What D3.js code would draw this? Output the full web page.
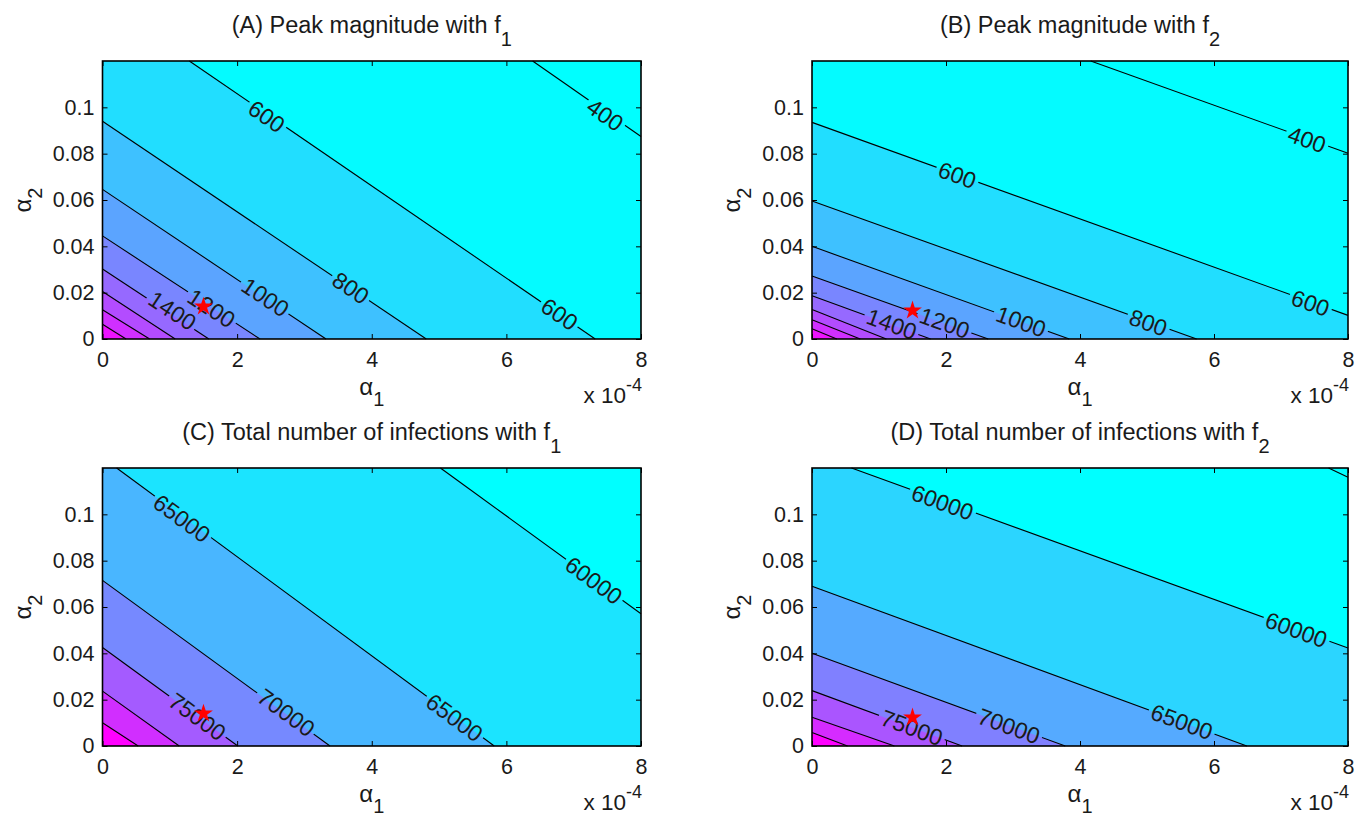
<!DOCTYPE html>
<html>
<head>
<meta charset="utf-8">
<script src="https://cdn.jsdelivr.net/npm/d3@7"></script>
<style>
body { margin: 0; background: #fff; }
svg { display: block; }
text { font-family: "Liberation Sans", Arial, Helvetica, sans-serif; fill: #1a1a1a; }
</style>
</head>
<body>
<svg width="1359" height="816"></svg>
<script>
// axis ticks (alpha1 in units of 1e-4)
var xTicks = [0, 2, 4, 6, 8];
var yTicks = [0, 0.02, 0.04, 0.06, 0.08, 0.1];

var titles = [
    ["(A) Peak magnitude with f", "1"],
    ["(B) Peak magnitude with f", "2"],
    ["(C) Total number of infections with f", "1"],
    ["(D) Total number of infections with f", "2"]
];

// contour levels and the end points of each contour line [alpha1, alpha2]
var levelsA = [400, 600, 800, 1000, 1200, 1400, 1600, 1800, 2000];
var linesA = [
    [[6.39, 0.12], [8, 0.0874]],
    [[1.29, 0.12], [7.32, 0]],
    [[0, 0.094], [4.81, 0]],
    [[0, 0.0646], [3.32, 0]],
    [[0, 0.0445], [2.34, 0]],
    [[0, 0.0302], [1.58, 0]],
    [[0, 0.0205], [1.08, 0]],
    [[0, 0.0126], [0.70, 0]],
    [[0, 0.0064], [0.35, 0]]
];
var labelsA = [[400, 7.47, 0.0968], [600, 2.44, 0.0961], [600, 6.79, 0.0108],
    [800, 3.69, 0.0221], [1000, 2.42, 0.0181], [1200, 1.62, 0.0134], [1400, 1.04, 0.0123]];

var levelsB = [400, 600, 800, 1000, 1200, 1400, 1600, 1800, 2000];
var linesB = [
    [[4.16, 0.12], [8, 0.0802]],
    [[0, 0.0935], [8, 0.0102]],
    [[0, 0.0596], [5.74, 0]],
    [[0, 0.040], [3.84, 0]],
    [[0, 0.0272], [2.63, 0]],
    [[0, 0.0187], [1.77, 0]],
    [[0, 0.0127], [1.11, 0]],
    [[0, 0.0083], [0.72, 0]],
    [[0, 0.0044], [0.37, 0]]
];
var labelsB = [[400, 7.39, 0.0862], [600, 2.17, 0.0708], [600, 7.44, 0.0156],
    [800, 5.02, 0.0071], [1000, 3.12, 0.0076], [1200, 1.98, 0.0070], [1400, 1.19, 0.0065]];

var levelsC = [60000, 65000, 70000, 75000, 80000, 85000];
var linesC = [
    [[5.02, 0.12], [8, 0.0571]],
    [[0.21, 0.12], [5.82, 0]],
    [[0, 0.0715], [3.38, 0]],
    [[0, 0.0425], [2.01, 0]],
    [[0, 0.0237], [1.14, 0]],
    [[0, 0.0100], [0.53, 0]]
];
var labelsC = [[65000, 1.18, 0.0983], [60000, 7.30, 0.0715], [75000, 1.41, 0.0127],
    [70000, 2.73, 0.0145], [65000, 5.23, 0.0123]];

var levelsD = [55000, 60000, 65000, 70000, 75000, 80000, 85000];
var linesD = [
    [[7.71, 0.12], [8, 0.116]],
    [[0.59, 0.12], [8, 0.0423]],
    [[0, 0.069], [6.49, 0]],
    [[0, 0.040], [3.78, 0]],
    [[0, 0.0239], [2.24, 0]],
    [[0, 0.0124], [1.23, 0]],
    [[0, 0.0058], [0.53, 0]]
];
var labelsD = [[60000, 1.95, 0.1052], [60000, 7.23, 0.0502], [65000, 5.52, 0.0105],
    [70000, 2.94, 0.0087], [75000, 1.49, 0.0080]];

// red star: the baseline parameter point
var starF1 = [1.5, 0.014];
var starF2 = [1.5, 0.0123];

// colour range (caxis) of each panel
var climA = [373, 2123];
var climB = [373, 2123];
var climC = [57000, 85000];
var climD = [55000, 85000];

var panels = [
    {id: "A", left: 102.5, right: 641, top: 61, bottom: 339, title: titles[0], levels: levelsA, lines: linesA, labels: labelsA, star: starF1, clim: climA},
    {id: "B", left: 812, right: 1348, top: 61, bottom: 339, title: titles[1], levels: levelsB, lines: linesB, labels: labelsB, star: starF2, clim: climB},
    {id: "C", left: 102.5, right: 641, top: 468, bottom: 746, title: titles[2], levels: levelsC, lines: linesC, labels: labelsC, star: starF1, clim: climC},
    {id: "D", left: 812, right: 1348, top: 468, bottom: 746, title: titles[3], levels: levelsD, lines: linesD, labels: labelsD, star: starF2, clim: climD}
];

var svg = d3.select("svg");
var defs = svg.append("defs");

var drawPanel = function(p)
{
    var w = p.right - p.left;
    var h = p.bottom - p.top;
    var g = svg.append("g")
        .attr("transform", "translate(" + p.left + "," + p.top + ")");

    var x = d3.scaleLinear().domain([0, 8]).range([0, w]);
    var y = d3.scaleLinear().domain([0, 0.12]).range([h, 0]);
    var color = d3.scaleLinear().domain(p.clim).range(["#00ffff", "#ff00ff"]).clamp(true);
    var line = d3.line().x(function(d) { return x(d[0]); }).y(function(d) { return y(d[1]); });

    // filled bands: background, then each level's region towards the origin
    g.append("rect").attr("width", w).attr("height", h).attr("fill", color(p.clim[0]));
    p.levels.forEach(function(lv, i) {
        var pts = p.lines[i].slice();
        var start = pts[0], end = pts[pts.length - 1];
        if (end[0] >= 8) pts.push([8, 0]);
        pts.push([0, 0]);
        if (start[1] >= 0.12) pts.push([0, 0.12]);
        g.append("path").attr("d", line(pts) + "Z").attr("fill", color(lv));
    });

    // contour labels, with the line broken underneath
    var mask = defs.append("mask").attr("id", "mask" + p.id).attr("maskUnits", "userSpaceOnUse");
    mask.append("rect").attr("x", -5).attr("y", -5).attr("width", w + 10).attr("height", h + 10).attr("fill", "#fff");

    var lineG = g.append("g").attr("mask", "url(#mask" + p.id + ")");
    var labG = g.append("g");

    p.labels.forEach(function(lb) {
        var pts = p.lines[p.levels.indexOf(lb[0])];
        var a = pts[0], b = pts[pts.length - 1];
        var ang = Math.atan2(y(b[1]) - y(a[1]), x(b[0]) - x(a[0])) * 180 / Math.PI;
        var cx = x(lb[1]), cy = y(lb[2]);
        var t = labG.append("text")
            .attr("transform", "translate(" + cx + "," + cy + ") rotate(" + ang + ")")
            .attr("text-anchor", "middle")
            .attr("dy", "0.36em")
            .attr("font-size", 23)
            .text(lb[0]);
        var tw = t.node().getComputedTextLength();
        mask.append("rect")
            .attr("x", -tw / 2 - 3).attr("y", -10)
            .attr("width", tw + 6).attr("height", 20)
            .attr("transform", "translate(" + cx + "," + cy + ") rotate(" + ang + ")")
            .attr("fill", "#000");
    });

    lineG.selectAll("path")
        .data(p.lines)
        .enter()
        .append("path")
        .attr("d", line)
        .attr("fill", "none")
        .attr("stroke", "#000")
        .attr("stroke-width", 1.1);

    // star
    g.append("path")
        .attr("d", d3.symbol(d3.symbolStar, 110)())
        .attr("transform", "translate(" + x(p.star[0]) + "," + y(p.star[1]) + ")")
        .attr("fill", "#ff0000");

    // axes with inward ticks on all four sides
    var yFmt = function(d) { return d === 0 ? "0" : d3.format("~g")(d); };
    var axes = [
        g.append("g").attr("transform", "translate(0," + h + ")")
            .call(d3.axisBottom(x).tickValues(xTicks).tickSize(-5).tickSizeOuter(0).tickPadding(13).tickFormat(d3.format("d"))),
        g.append("g")
            .call(d3.axisLeft(y).tickValues(yTicks).tickSize(-5).tickSizeOuter(0).tickPadding(8).tickFormat(yFmt)),
        g.append("g")
            .call(d3.axisTop(x).tickValues(xTicks).tickSize(-5).tickSizeOuter(0).tickFormat("")),
        g.append("g").attr("transform", "translate(" + w + ",0)")
            .call(d3.axisRight(y).tickValues(yTicks).tickSize(-5).tickSizeOuter(0).tickFormat(""))
    ];
    axes.forEach(function(ax) {
        ax.attr("font-size", 21.5).attr("font-family", null);
        ax.select(".domain").remove();
        ax.selectAll(".tick line").attr("stroke", "#000");
    });

    g.append("rect")
        .attr("width", w).attr("height", h)
        .attr("fill", "none")
        .attr("stroke", "#000")
        .attr("stroke-width", 1.6);

    // title
    var tt = g.append("text")
        .attr("x", w / 2).attr("y", -28)
        .attr("text-anchor", "middle")
        .attr("font-size", 23.5);
    tt.append("tspan").text(p.title[0]);
    tt.append("tspan").attr("dy", 13).attr("font-size", 20).text(p.title[1]);

    // x label
    var xl = g.append("text")
        .attr("x", w / 2).attr("y", h + 56)
        .attr("text-anchor", "middle")
        .attr("font-size", 24);
    xl.append("tspan").text("\u03b1");
    xl.append("tspan").attr("dy", 11).attr("font-size", 20).text("1");

    // exponent
    var ex = g.append("text")
        .attr("x", w + 1).attr("y", h + 64)
        .attr("text-anchor", "end")
        .attr("font-size", 22.5);
    ex.append("tspan").text("x 10");
    ex.append("tspan").attr("dy", -12).attr("font-size", 18).text("-4");

    // y label
    var yl = g.append("text")
        .attr("transform", "translate(-72," + (h / 2) + ") rotate(-90)")
        .attr("text-anchor", "middle")
        .attr("font-size", 24);
    yl.append("tspan").text("\u03b1");
    yl.append("tspan").attr("dy", 11).attr("font-size", 20).text("2");
}

panels.forEach(drawPanel);
</script>
</body>
</html>
